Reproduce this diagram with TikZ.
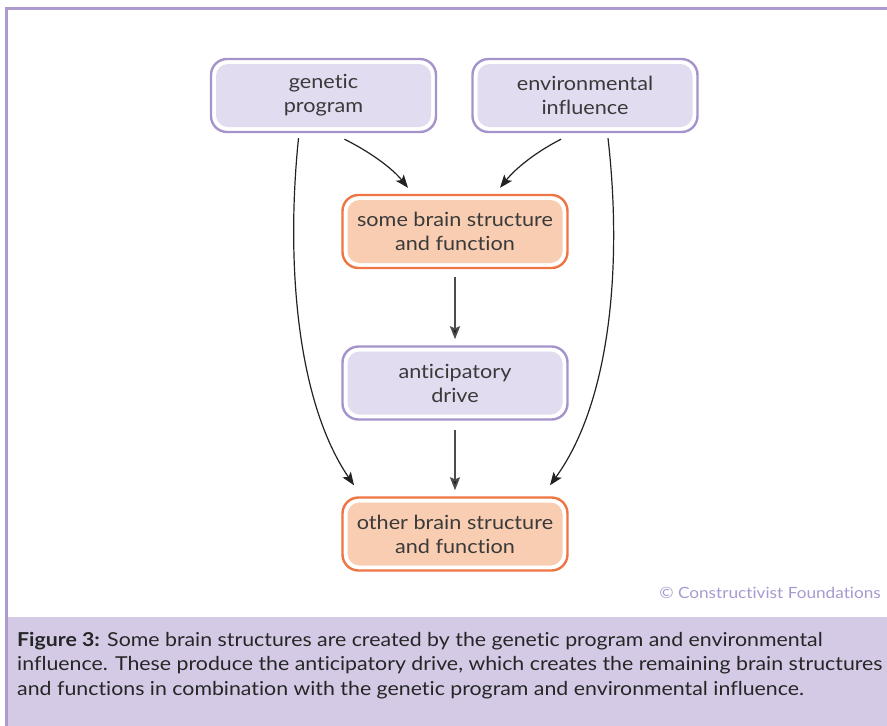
\documentclass[tikz,border=0pt]{standalone}
\usepackage{fontspec}
\setmainfont{Lato}[FakeStretch=1.11, Ligatures=NoCommon]
\usetikzlibrary{arrows.meta,calc}
\definecolor{framec}{HTML}{AD9BD0}
\definecolor{capbg}{HTML}{D4CAE6}
\definecolor{purstroke}{HTML}{A593CC}
\definecolor{purfill}{HTML}{E1DCEF}
\definecolor{orstroke}{HTML}{EE7443}
\definecolor{orfill}{HTML}{F9CDB1}
\definecolor{txtc}{HTML}{3A3A3A}
\definecolor{arrc}{HTML}{222222}
\definecolor{copyc}{HTML}{A899D0}
\tikzset{
  boxbase/.style={rounded corners=16pt, line width=2.4pt, fill=white,
    minimum width=225pt, minimum height=73pt, align=center,
    text=txtc, font=\fontsize{19.5}{24}\selectfont},
  purbox/.style={boxbase, draw=purstroke,
    path picture={\fill[purfill, rounded corners=12pt]
      ([shift={(5pt,5pt)}]path picture bounding box.south west) rectangle
      ([shift={(-5pt,-5pt)}]path picture bounding box.north east);}},
  orbox/.style={boxbase, draw=orstroke,
    path picture={\fill[orfill, rounded corners=12pt]
      ([shift={(5pt,5pt)}]path picture bounding box.south west) rectangle
      ([shift={(-5pt,-5pt)}]path picture bounding box.north east);}},
  arr/.style={draw=arrc, line width=1.2pt, -{Stealth[length=13pt,width=10pt,inset=3pt]}},
  varr/.style={draw=black!70, line width=1.8pt, -{Stealth[length=13pt,width=10pt,inset=2pt,fill=arrc]}}
}
\begin{document}
\begin{tikzpicture}[x=1pt,y=-1pt]
\useasboundingbox (0,0) rectangle (887,726);
% frame and caption
\fill[capbg] (6,617) rectangle (887,726);
\draw[framec, line width=3pt] (6,726) -- (6,8) -- (887,8);
\node[anchor=north west, inner sep=0pt, align=left, text=black!85,
  font=\fontsize{19.2}{24.5}\selectfont] (cap) at (17,632)
  {\textbf{Figure 3:} Some brain structures are created by the genetic program and environmental\\
   influence. These produce the anticipatory drive, which creates the remaining brain structures\\
   and functions in combination with the genetic program and environmental influence.};
\node[anchor=east, inner sep=0pt, text=copyc, font=\fontsize{15.5}{18}\selectfont] (copy) at (881,593)
  {© Constructivist Foundations};
% boxes
\node[purbox] (gen) at (323.5,95.5) {genetic\\program};
\node[purbox] (env) at (585,95.5) {environmental\\influence};
\node[orbox] (some) at (455,231.5) {some brain structure\\and function};
\node[purbox] (ant) at (455,383) {anticipatory\\drive};
\node[orbox] (oth) at (455,534) {other brain structure\\and function};
% connector end points
\coordinate (g1) at ($(gen.south)+(21,6)$);
\coordinate (s1) at ($(some.north)+(-47,-6)$);
\coordinate (e1) at ($(env.south)+(-24,6)$);
\coordinate (s2) at ($(some.north)+(45,-6)$);
\coordinate (g2) at ($(gen.south)+(-25,5)$);
\coordinate (o1) at ($(oth.north)+(-101,-11)$);
\coordinate (e2) at ($(env.south)+(23,5)$);
\coordinate (o2) at ($(oth.north)+(95,-11)$);
% connectors
\draw[arr] (g1) .. controls (370,152) and (392,168) .. (s1);
\draw[arr] (e1) .. controls (536,152) and (516,168) .. (s2);
\draw[arr] (g2) .. controls (286,260) and (296,400) .. (o1);
\draw[arr] (e2) .. controls (622,260) and (612,400) .. (o2);
\draw[varr] ($(some.south)+(0,8)$) -- ($(ant.north)+(0,-6)$);
\draw[varr] ($(ant.south)+(0,9)$) -- ($(oth.north)+(0,-6)$);
\end{tikzpicture}
\end{document}
